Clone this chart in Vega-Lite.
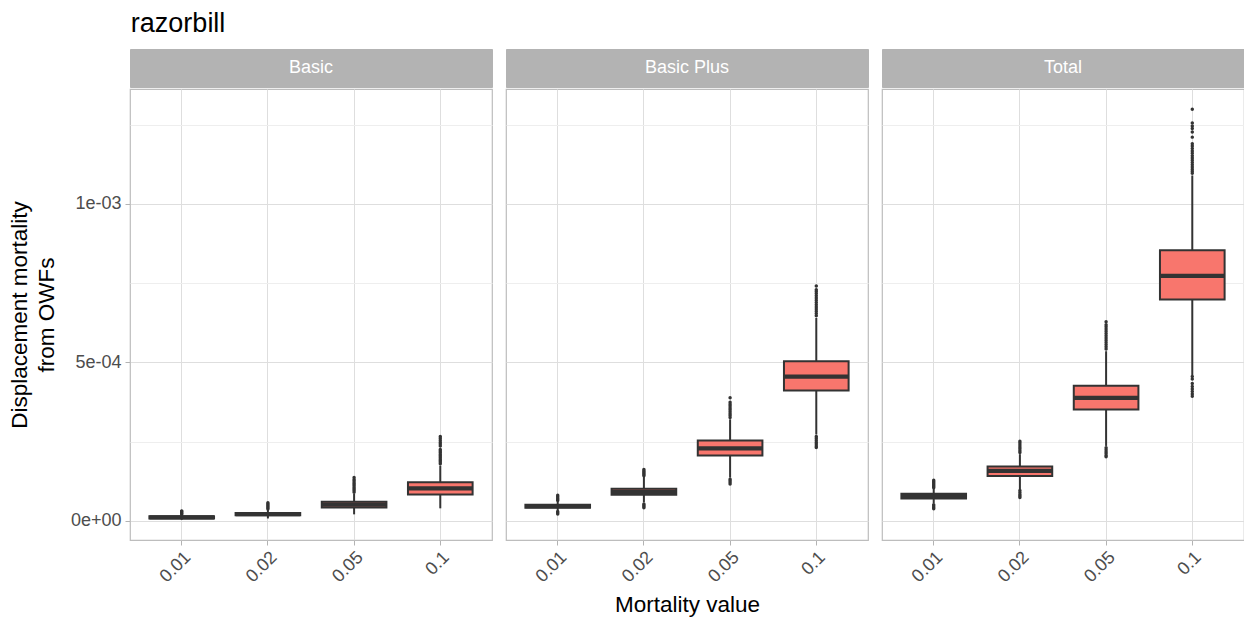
{
  "$schema": "https://vega.github.io/schema/vega-lite/v6.json",
  "background": "white",
  "padding": {"left": 7, "top": 9, "right": 0, "bottom": 0},
  "title": {
    "text": "razorbill",
    "anchor": "start",
    "font": "Liberation Sans",
    "fontSize": 27,
    "fontWeight": "normal",
    "color": "#000000",
    "offset": 11,
    "dx": 123
  },
  "datasets": {
    "strips": [
      {"scenario": "Basic"},
      {"scenario": "Basic Plus"},
      {"scenario": "Total"}
    ],
    "boxes": [
      {"scenario": "Basic", "m": "0.01", "lower": 0.000003, "q1": 0.000007, "median": 0.0000103, "q3": 0.000014, "upper": 0.000018},
      {"scenario": "Basic", "m": "0.02", "lower": 0.000007, "q1": 0.000017, "median": 0.0000205, "q3": 0.000024, "upper": 0.000034},
      {"scenario": "Basic", "m": "0.05", "lower": 0.00002, "q1": 0.000042, "median": 0.000051, "q3": 0.00006, "upper": 0.000085},
      {"scenario": "Basic", "m": "0.1", "lower": 0.000039, "q1": 0.000083, "median": 0.000102, "q3": 0.000121, "upper": 0.000174},
      {"scenario": "Basic Plus", "m": "0.01", "lower": 0.000032, "q1": 0.000041, "median": 0.000046, "q3": 0.00005, "upper": 0.00006},
      {"scenario": "Basic Plus", "m": "0.02", "lower": 0.000058, "q1": 0.000082, "median": 0.000091, "q3": 0.000101, "upper": 0.000138},
      {"scenario": "Basic Plus", "m": "0.05", "lower": 0.000136, "q1": 0.000206, "median": 0.000228, "q3": 0.000253, "upper": 0.00032},
      {"scenario": "Basic Plus", "m": "0.1", "lower": 0.000272, "q1": 0.000411, "median": 0.000455, "q3": 0.000503, "upper": 0.00064},
      {"scenario": "Total", "m": "0.01", "lower": 0.000055, "q1": 0.00007, "median": 0.000078, "q3": 0.000085, "upper": 0.0001},
      {"scenario": "Total", "m": "0.02", "lower": 0.0001, "q1": 0.000141, "median": 0.000157, "q3": 0.000171, "upper": 0.00021},
      {"scenario": "Total", "m": "0.05", "lower": 0.000236, "q1": 0.000351, "median": 0.000388, "q3": 0.000426, "upper": 0.000535},
      {"scenario": "Total", "m": "0.1", "lower": 0.00046, "q1": 0.000698, "median": 0.000773, "q3": 0.000854, "upper": 0.00109}
    ],
    "outliers": [
      {"scenario": "Basic", "m": "0.01", "value": 0.00002},
      {"scenario": "Basic", "m": "0.01", "value": 0.000023},
      {"scenario": "Basic", "m": "0.01", "value": 0.000026},
      {"scenario": "Basic", "m": "0.01", "value": 0.000029},
      {"scenario": "Basic", "m": "0.01", "value": 0.000031},
      {"scenario": "Basic", "m": "0.02", "value": 0.000037},
      {"scenario": "Basic", "m": "0.02", "value": 0.000041},
      {"scenario": "Basic", "m": "0.02", "value": 0.000045},
      {"scenario": "Basic", "m": "0.02", "value": 0.000049},
      {"scenario": "Basic", "m": "0.02", "value": 0.000053},
      {"scenario": "Basic", "m": "0.02", "value": 0.000057},
      {"scenario": "Basic", "m": "0.05", "value": 0.00009},
      {"scenario": "Basic", "m": "0.05", "value": 0.000095},
      {"scenario": "Basic", "m": "0.05", "value": 0.0001},
      {"scenario": "Basic", "m": "0.05", "value": 0.000105},
      {"scenario": "Basic", "m": "0.05", "value": 0.00011},
      {"scenario": "Basic", "m": "0.05", "value": 0.000115},
      {"scenario": "Basic", "m": "0.05", "value": 0.00012},
      {"scenario": "Basic", "m": "0.05", "value": 0.000125},
      {"scenario": "Basic", "m": "0.05", "value": 0.00013},
      {"scenario": "Basic", "m": "0.05", "value": 0.000136},
      {"scenario": "Basic", "m": "0.1", "value": 0.00018},
      {"scenario": "Basic", "m": "0.1", "value": 0.000185},
      {"scenario": "Basic", "m": "0.1", "value": 0.00019},
      {"scenario": "Basic", "m": "0.1", "value": 0.000195},
      {"scenario": "Basic", "m": "0.1", "value": 0.0002},
      {"scenario": "Basic", "m": "0.1", "value": 0.000205},
      {"scenario": "Basic", "m": "0.1", "value": 0.00021},
      {"scenario": "Basic", "m": "0.1", "value": 0.000215},
      {"scenario": "Basic", "m": "0.1", "value": 0.00022},
      {"scenario": "Basic", "m": "0.1", "value": 0.000225},
      {"scenario": "Basic", "m": "0.1", "value": 0.000236},
      {"scenario": "Basic", "m": "0.1", "value": 0.000242},
      {"scenario": "Basic", "m": "0.1", "value": 0.000248},
      {"scenario": "Basic", "m": "0.1", "value": 0.000254},
      {"scenario": "Basic", "m": "0.1", "value": 0.00026},
      {"scenario": "Basic", "m": "0.1", "value": 0.000266},
      {"scenario": "Basic Plus", "m": "0.01", "value": 0.000064},
      {"scenario": "Basic Plus", "m": "0.01", "value": 0.000068},
      {"scenario": "Basic Plus", "m": "0.01", "value": 0.000072},
      {"scenario": "Basic Plus", "m": "0.01", "value": 0.000076},
      {"scenario": "Basic Plus", "m": "0.01", "value": 0.00008},
      {"scenario": "Basic Plus", "m": "0.01", "value": 0.000029},
      {"scenario": "Basic Plus", "m": "0.01", "value": 0.000025},
      {"scenario": "Basic Plus", "m": "0.01", "value": 0.000021},
      {"scenario": "Basic Plus", "m": "0.02", "value": 0.000142},
      {"scenario": "Basic Plus", "m": "0.02", "value": 0.000146},
      {"scenario": "Basic Plus", "m": "0.02", "value": 0.00015},
      {"scenario": "Basic Plus", "m": "0.02", "value": 0.000154},
      {"scenario": "Basic Plus", "m": "0.02", "value": 0.000158},
      {"scenario": "Basic Plus", "m": "0.02", "value": 0.000162},
      {"scenario": "Basic Plus", "m": "0.02", "value": 0.000053},
      {"scenario": "Basic Plus", "m": "0.02", "value": 0.000049},
      {"scenario": "Basic Plus", "m": "0.02", "value": 0.000045},
      {"scenario": "Basic Plus", "m": "0.02", "value": 0.000041},
      {"scenario": "Basic Plus", "m": "0.05", "value": 0.000326},
      {"scenario": "Basic Plus", "m": "0.05", "value": 0.000332},
      {"scenario": "Basic Plus", "m": "0.05", "value": 0.000338},
      {"scenario": "Basic Plus", "m": "0.05", "value": 0.000344},
      {"scenario": "Basic Plus", "m": "0.05", "value": 0.00035},
      {"scenario": "Basic Plus", "m": "0.05", "value": 0.000356},
      {"scenario": "Basic Plus", "m": "0.05", "value": 0.000362},
      {"scenario": "Basic Plus", "m": "0.05", "value": 0.000368},
      {"scenario": "Basic Plus", "m": "0.05", "value": 0.000374},
      {"scenario": "Basic Plus", "m": "0.05", "value": 0.000388},
      {"scenario": "Basic Plus", "m": "0.05", "value": 0.000131},
      {"scenario": "Basic Plus", "m": "0.05", "value": 0.000126},
      {"scenario": "Basic Plus", "m": "0.05", "value": 0.000121},
      {"scenario": "Basic Plus", "m": "0.05", "value": 0.000116},
      {"scenario": "Basic Plus", "m": "0.1", "value": 0.000647},
      {"scenario": "Basic Plus", "m": "0.1", "value": 0.000654},
      {"scenario": "Basic Plus", "m": "0.1", "value": 0.000661},
      {"scenario": "Basic Plus", "m": "0.1", "value": 0.000668},
      {"scenario": "Basic Plus", "m": "0.1", "value": 0.000675},
      {"scenario": "Basic Plus", "m": "0.1", "value": 0.000682},
      {"scenario": "Basic Plus", "m": "0.1", "value": 0.000689},
      {"scenario": "Basic Plus", "m": "0.1", "value": 0.000696},
      {"scenario": "Basic Plus", "m": "0.1", "value": 0.000703},
      {"scenario": "Basic Plus", "m": "0.1", "value": 0.00071},
      {"scenario": "Basic Plus", "m": "0.1", "value": 0.000717},
      {"scenario": "Basic Plus", "m": "0.1", "value": 0.000724},
      {"scenario": "Basic Plus", "m": "0.1", "value": 0.000729},
      {"scenario": "Basic Plus", "m": "0.1", "value": 0.000741},
      {"scenario": "Basic Plus", "m": "0.1", "value": 0.000266},
      {"scenario": "Basic Plus", "m": "0.1", "value": 0.00026},
      {"scenario": "Basic Plus", "m": "0.1", "value": 0.000254},
      {"scenario": "Basic Plus", "m": "0.1", "value": 0.000248},
      {"scenario": "Basic Plus", "m": "0.1", "value": 0.000242},
      {"scenario": "Basic Plus", "m": "0.1", "value": 0.000236},
      {"scenario": "Basic Plus", "m": "0.1", "value": 0.000231},
      {"scenario": "Total", "m": "0.01", "value": 0.000104},
      {"scenario": "Total", "m": "0.01", "value": 0.000108},
      {"scenario": "Total", "m": "0.01", "value": 0.000112},
      {"scenario": "Total", "m": "0.01", "value": 0.000116},
      {"scenario": "Total", "m": "0.01", "value": 0.00012},
      {"scenario": "Total", "m": "0.01", "value": 0.000124},
      {"scenario": "Total", "m": "0.01", "value": 0.000128},
      {"scenario": "Total", "m": "0.01", "value": 0.00005},
      {"scenario": "Total", "m": "0.01", "value": 0.000046},
      {"scenario": "Total", "m": "0.01", "value": 0.000042},
      {"scenario": "Total", "m": "0.01", "value": 0.000038},
      {"scenario": "Total", "m": "0.02", "value": 0.000215},
      {"scenario": "Total", "m": "0.02", "value": 0.000221},
      {"scenario": "Total", "m": "0.02", "value": 0.000227},
      {"scenario": "Total", "m": "0.02", "value": 0.000233},
      {"scenario": "Total", "m": "0.02", "value": 0.000239},
      {"scenario": "Total", "m": "0.02", "value": 0.000245},
      {"scenario": "Total", "m": "0.02", "value": 0.000251},
      {"scenario": "Total", "m": "0.02", "value": 0.000095},
      {"scenario": "Total", "m": "0.02", "value": 0.000089},
      {"scenario": "Total", "m": "0.02", "value": 0.000083},
      {"scenario": "Total", "m": "0.02", "value": 0.000078},
      {"scenario": "Total", "m": "0.02", "value": 0.000073},
      {"scenario": "Total", "m": "0.05", "value": 0.000542},
      {"scenario": "Total", "m": "0.05", "value": 0.000549},
      {"scenario": "Total", "m": "0.05", "value": 0.000556},
      {"scenario": "Total", "m": "0.05", "value": 0.000563},
      {"scenario": "Total", "m": "0.05", "value": 0.00057},
      {"scenario": "Total", "m": "0.05", "value": 0.000577},
      {"scenario": "Total", "m": "0.05", "value": 0.000584},
      {"scenario": "Total", "m": "0.05", "value": 0.000591},
      {"scenario": "Total", "m": "0.05", "value": 0.000598},
      {"scenario": "Total", "m": "0.05", "value": 0.000605},
      {"scenario": "Total", "m": "0.05", "value": 0.000612},
      {"scenario": "Total", "m": "0.05", "value": 0.000619},
      {"scenario": "Total", "m": "0.05", "value": 0.000628},
      {"scenario": "Total", "m": "0.05", "value": 0.00023},
      {"scenario": "Total", "m": "0.05", "value": 0.000224},
      {"scenario": "Total", "m": "0.05", "value": 0.000218},
      {"scenario": "Total", "m": "0.05", "value": 0.000212},
      {"scenario": "Total", "m": "0.05", "value": 0.000206},
      {"scenario": "Total", "m": "0.05", "value": 0.000202},
      {"scenario": "Total", "m": "0.1", "value": 0.001097},
      {"scenario": "Total", "m": "0.1", "value": 0.001103},
      {"scenario": "Total", "m": "0.1", "value": 0.00111},
      {"scenario": "Total", "m": "0.1", "value": 0.001117},
      {"scenario": "Total", "m": "0.1", "value": 0.001124},
      {"scenario": "Total", "m": "0.1", "value": 0.001131},
      {"scenario": "Total", "m": "0.1", "value": 0.001138},
      {"scenario": "Total", "m": "0.1", "value": 0.001145},
      {"scenario": "Total", "m": "0.1", "value": 0.001152},
      {"scenario": "Total", "m": "0.1", "value": 0.00116},
      {"scenario": "Total", "m": "0.1", "value": 0.001167},
      {"scenario": "Total", "m": "0.1", "value": 0.001175},
      {"scenario": "Total", "m": "0.1", "value": 0.001183},
      {"scenario": "Total", "m": "0.1", "value": 0.00119},
      {"scenario": "Total", "m": "0.1", "value": 0.001211},
      {"scenario": "Total", "m": "0.1", "value": 0.001227},
      {"scenario": "Total", "m": "0.1", "value": 0.001238},
      {"scenario": "Total", "m": "0.1", "value": 0.001246},
      {"scenario": "Total", "m": "0.1", "value": 0.001256},
      {"scenario": "Total", "m": "0.1", "value": 0.001299},
      {"scenario": "Total", "m": "0.1", "value": 0.000455},
      {"scenario": "Total", "m": "0.1", "value": 0.000447},
      {"scenario": "Total", "m": "0.1", "value": 0.000433},
      {"scenario": "Total", "m": "0.1", "value": 0.000424},
      {"scenario": "Total", "m": "0.1", "value": 0.000416},
      {"scenario": "Total", "m": "0.1", "value": 0.000408},
      {"scenario": "Total", "m": "0.1", "value": 0.0004},
      {"scenario": "Total", "m": "0.1", "value": 0.000393}
    ]
  },
  "spacing": 12,
  "hconcat": [
    {
      "spacing": 0,
      "vconcat": [
        {
          "data": {"name": "strips"},
          "transform": [{"filter": "datum.scenario === 'Basic'"}],
          "width": 362,
          "height": 38,
          "view": {"fill": "#B3B3B3", "stroke": "#B3B3B3"},
          "mark": {"type": "text", "color": "#FFFFFF", "font": "Liberation Sans", "fontSize": 18},
          "encoding": {"text": {"field": "scenario", "type": "nominal"}}
        },
        {
          "width": 362,
          "height": 451,
          "layer": [
            {
              "data": {"name": "boxes"},
              "transform": [{"filter": "datum.scenario === 'Basic'"}],
              "mark": {"type": "rule", "color": "#333333", "strokeWidth": 2},
              "encoding": {
                "x": {
                  "field": "m", "type": "nominal",
                  "scale": {"domain": ["0.01", "0.02", "0.05", "0.1"], "paddingInner": 0, "paddingOuter": 0.1},
                  "axis": {"title": null, "labelAngle": -45, "labelAlign": "right", "labelBaseline": "top", "labelPadding": 3, "grid": true, "gridColor": "#DEDEDE", "bandPosition": 0.5, "tickBand": "center"}
                },
                "y": {
                  "field": "lower", "type": "quantitative",
                  "scale": {"domain": [-0.000061, 0.001363], "nice": false, "zero": false},
                  "axis": {
                    "values": [0, 0.00025, 0.0005, 0.00075, 0.001, 0.00125],
                    "labelExpr": "datum.value === 0 ? '0e+00' : datum.value === 0.0005 ? '5e-04' : datum.value === 0.001 ? '1e-03' : ''",
                    "labelOverlap": false,
                    "labelPadding": 4,
                    "title": ["Displacement mortality", "from OWFs"],
                    "titlePadding": 12,
                    "titleLineHeight": 27,
                    "grid": true,
                    "gridColor": {"condition": {"test": "datum.value === 0 || datum.value === 0.0005 || datum.value === 0.001", "value": "#DEDEDE"}, "value": "#EEEEEE"},
                    "tickColor": {"condition": {"test": "datum.value === 0 || datum.value === 0.0005 || datum.value === 0.001", "value": "#B3B3B3"}, "value": "transparent"}
                  }
                },
                "y2": {"field": "upper"}
              }
            },
            {
              "data": {"name": "boxes"},
              "transform": [{"filter": "datum.scenario === 'Basic'"}],
              "mark": {"type": "bar", "fill": "#F8766D", "stroke": "#333333", "strokeWidth": 2, "width": {"band": 0.75}},
              "encoding": {
                "x": {"field": "m", "type": "nominal"},
                "y": {"field": "q1", "type": "quantitative"},
                "y2": {"field": "q3"}
              }
            },
            {
              "data": {"name": "boxes"},
              "transform": [{"filter": "datum.scenario === 'Basic'"}],
              "mark": {"type": "tick", "color": "#333333", "opacity": 1, "thickness": 4.2, "size": 64.6},
              "encoding": {
                "x": {"field": "m", "type": "nominal"},
                "y": {"field": "median", "type": "quantitative"}
              }
            },
            {
              "data": {"name": "outliers"},
              "transform": [{"filter": "datum.scenario === 'Basic'"}],
              "mark": {"type": "circle", "color": "#333333", "opacity": 1, "size": 12},
              "encoding": {
                "x": {"field": "m", "type": "nominal"},
                "y": {"field": "value", "type": "quantitative"}
              }
            }
          ]
        }
      ]
    },
    {
      "spacing": 0,
      "vconcat": [
        {
          "data": {"name": "strips"},
          "transform": [{"filter": "datum.scenario === 'Basic Plus'"}],
          "width": 362,
          "height": 38,
          "view": {"fill": "#B3B3B3", "stroke": "#B3B3B3"},
          "mark": {"type": "text", "color": "#FFFFFF", "font": "Liberation Sans", "fontSize": 18},
          "encoding": {"text": {"field": "scenario", "type": "nominal"}}
        },
        {
          "width": 362,
          "height": 451,
          "layer": [
            {
              "data": {"name": "boxes"},
              "transform": [{"filter": "datum.scenario === 'Basic Plus'"}],
              "mark": {"type": "rule", "color": "#333333", "strokeWidth": 2},
              "encoding": {
                "x": {
                  "field": "m", "type": "nominal",
                  "scale": {"domain": ["0.01", "0.02", "0.05", "0.1"], "paddingInner": 0, "paddingOuter": 0.1},
                  "axis": {"title": "Mortality value", "titlePadding": 8, "labelAngle": -45, "labelAlign": "right", "labelBaseline": "top", "labelPadding": 3, "grid": true, "gridColor": "#DEDEDE", "bandPosition": 0.5, "tickBand": "center"}
                },
                "y": {
                  "field": "lower", "type": "quantitative",
                  "scale": {"domain": [-0.000061, 0.001363], "nice": false, "zero": false},
                  "axis": {
                    "values": [0, 0.00025, 0.0005, 0.00075, 0.001, 0.00125],
                    "labels": false,
                    "ticks": false,
                    "title": null,
                    "grid": true,
                    "gridColor": {"condition": {"test": "datum.value === 0 || datum.value === 0.0005 || datum.value === 0.001", "value": "#DEDEDE"}, "value": "#EEEEEE"}
                  }
                },
                "y2": {"field": "upper"}
              }
            },
            {
              "data": {"name": "boxes"},
              "transform": [{"filter": "datum.scenario === 'Basic Plus'"}],
              "mark": {"type": "bar", "fill": "#F8766D", "stroke": "#333333", "strokeWidth": 2, "width": {"band": 0.75}},
              "encoding": {
                "x": {"field": "m", "type": "nominal"},
                "y": {"field": "q1", "type": "quantitative"},
                "y2": {"field": "q3"}
              }
            },
            {
              "data": {"name": "boxes"},
              "transform": [{"filter": "datum.scenario === 'Basic Plus'"}],
              "mark": {"type": "tick", "color": "#333333", "opacity": 1, "thickness": 4.2, "size": 64.6},
              "encoding": {
                "x": {"field": "m", "type": "nominal"},
                "y": {"field": "median", "type": "quantitative"}
              }
            },
            {
              "data": {"name": "outliers"},
              "transform": [{"filter": "datum.scenario === 'Basic Plus'"}],
              "mark": {"type": "circle", "color": "#333333", "opacity": 1, "size": 12},
              "encoding": {
                "x": {"field": "m", "type": "nominal"},
                "y": {"field": "value", "type": "quantitative"}
              }
            }
          ]
        }
      ]
    },
    {
      "spacing": 0,
      "vconcat": [
        {
          "data": {"name": "strips"},
          "transform": [{"filter": "datum.scenario === 'Total'"}],
          "width": 362,
          "height": 38,
          "view": {"fill": "#B3B3B3", "stroke": "#B3B3B3"},
          "mark": {"type": "text", "color": "#FFFFFF", "font": "Liberation Sans", "fontSize": 18},
          "encoding": {"text": {"field": "scenario", "type": "nominal"}}
        },
        {
          "width": 362,
          "height": 451,
          "layer": [
            {
              "data": {"name": "boxes"},
              "transform": [{"filter": "datum.scenario === 'Total'"}],
              "mark": {"type": "rule", "color": "#333333", "strokeWidth": 2},
              "encoding": {
                "x": {
                  "field": "m", "type": "nominal",
                  "scale": {"domain": ["0.01", "0.02", "0.05", "0.1"], "paddingInner": 0, "paddingOuter": 0.1},
                  "axis": {"title": null, "labelAngle": -45, "labelAlign": "right", "labelBaseline": "top", "labelPadding": 3, "grid": true, "gridColor": "#DEDEDE", "bandPosition": 0.5, "tickBand": "center"}
                },
                "y": {
                  "field": "lower", "type": "quantitative",
                  "scale": {"domain": [-0.000061, 0.001363], "nice": false, "zero": false},
                  "axis": {
                    "values": [0, 0.00025, 0.0005, 0.00075, 0.001, 0.00125],
                    "labels": false,
                    "ticks": false,
                    "title": null,
                    "grid": true,
                    "gridColor": {"condition": {"test": "datum.value === 0 || datum.value === 0.0005 || datum.value === 0.001", "value": "#DEDEDE"}, "value": "#EEEEEE"}
                  }
                },
                "y2": {"field": "upper"}
              }
            },
            {
              "data": {"name": "boxes"},
              "transform": [{"filter": "datum.scenario === 'Total'"}],
              "mark": {"type": "bar", "fill": "#F8766D", "stroke": "#333333", "strokeWidth": 2, "width": {"band": 0.75}},
              "encoding": {
                "x": {"field": "m", "type": "nominal"},
                "y": {"field": "q1", "type": "quantitative"},
                "y2": {"field": "q3"}
              }
            },
            {
              "data": {"name": "boxes"},
              "transform": [{"filter": "datum.scenario === 'Total'"}],
              "mark": {"type": "tick", "color": "#333333", "opacity": 1, "thickness": 4.2, "size": 64.6},
              "encoding": {
                "x": {"field": "m", "type": "nominal"},
                "y": {"field": "median", "type": "quantitative"}
              }
            },
            {
              "data": {"name": "outliers"},
              "transform": [{"filter": "datum.scenario === 'Total'"}],
              "mark": {"type": "circle", "color": "#333333", "opacity": 1, "size": 12},
              "encoding": {
                "x": {"field": "m", "type": "nominal"},
                "y": {"field": "value", "type": "quantitative"}
              }
            }
          ]
        }
      ]
    }
  ],
  "config": {
    "font": "Liberation Sans",
    "view": {"stroke": "#BDBDBD", "strokeWidth": 1.2},
    "axis": {
      "domain": false,
      "labelFont": "Liberation Sans",
      "labelFontSize": 18,
      "labelColor": "#4D4D4D",
      "tickColor": "#B3B3B3",
      "tickSize": 5,
      "titleFont": "Liberation Sans",
      "titleFontSize": 22.5,
      "titleFontWeight": "normal",
      "titleColor": "#000000"
    }
  }
}
